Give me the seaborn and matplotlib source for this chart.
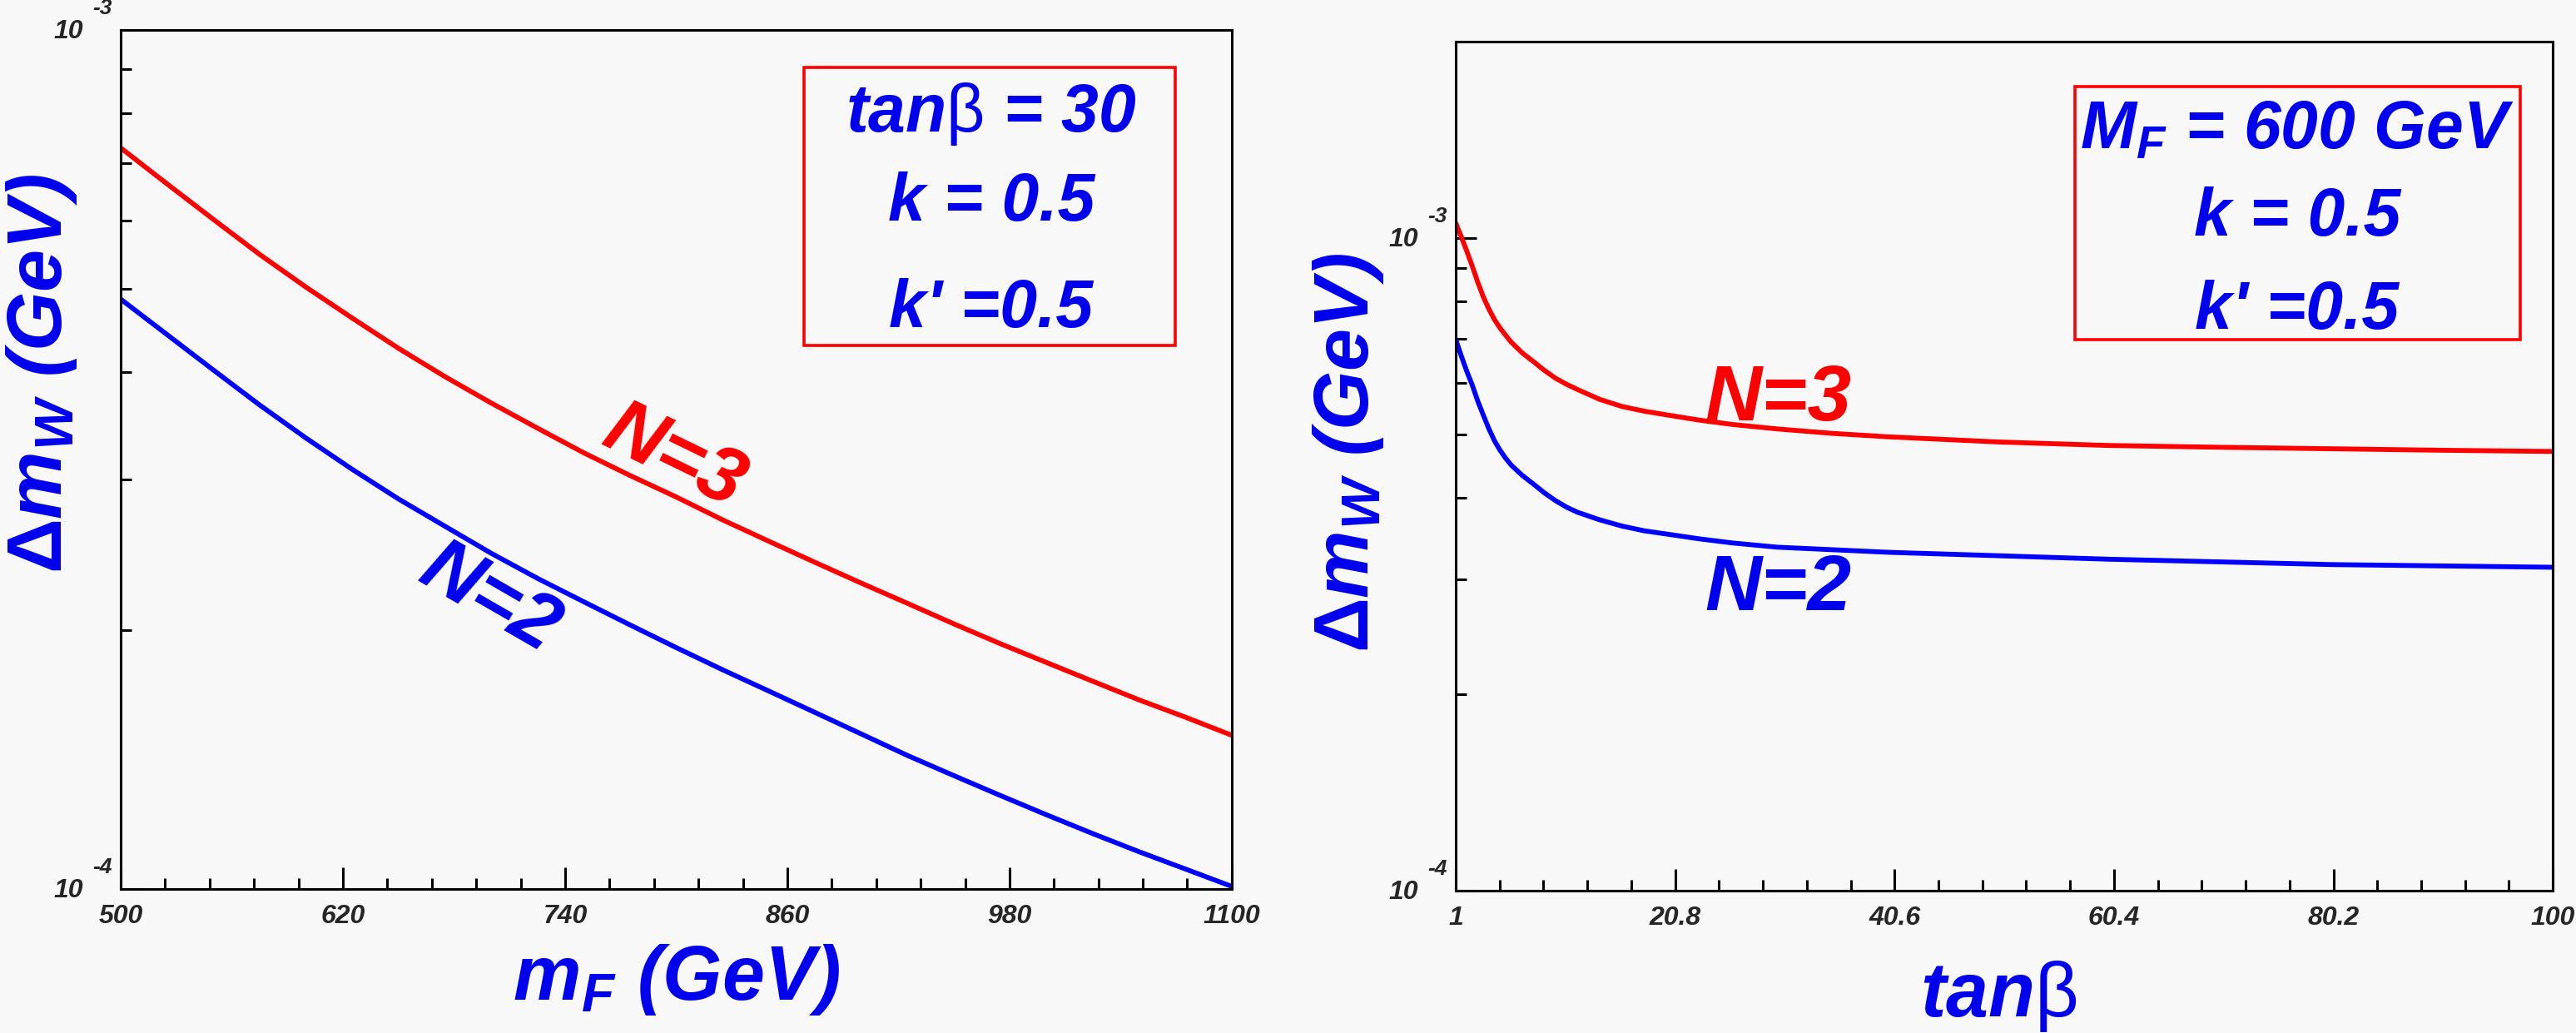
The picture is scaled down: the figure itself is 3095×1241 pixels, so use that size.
import numpy as np
import pandas as pd
import matplotlib
matplotlib.use("Agg")
import matplotlib.pyplot as plt
import matplotlib.ticker as mticker
from matplotlib.transforms import offset_copy
from matplotlib.patches import Rectangle
import seaborn as sns

# -----------------------------------
# DATA (units of 1e-4 GeV)
# -----------------------------------

mf_vals = [500, 525, 550, 575, 600, 625, 650, 675, 700, 725, 750, 775, 800,
           825, 850, 875, 900, 925, 950, 975, 1000, 1025, 1050, 1075, 1100]
dmw_mf_n2 = [4.86, 4.42, 4.02, 3.66, 3.35, 3.08, 2.845, 2.645, 2.46, 2.30, 2.16, 2.03, 1.91,
             1.80, 1.70, 1.605, 1.515, 1.43, 1.355, 1.285, 1.22, 1.16, 1.105, 1.055, 1.007]
dmw_mf_n3 = [7.29, 6.62, 6.02, 5.48, 5.02, 4.62, 4.26, 3.95, 3.68, 3.44, 3.22, 3.03, 2.86,
             2.69, 2.54, 2.40, 2.27, 2.15, 2.035, 1.93, 1.835, 1.745, 1.66, 1.585, 1.51]

tanb_vals = [1, 1.5, 2, 2.5, 3, 3.5, 4, 4.5, 5, 5.5, 6, 7, 8, 9, 10, 11, 12, 14, 16,
             18, 20, 23, 26, 30, 35, 40, 50, 60, 70, 80, 90, 100]
dmw_tb_n2 = [7.0, 6.6, 6.25, 5.95, 5.62, 5.35, 5.10, 4.89, 4.73, 4.60, 4.49, 4.33, 4.20,
             4.07, 3.96, 3.87, 3.80, 3.70, 3.62, 3.56, 3.52, 3.46, 3.41, 3.36, 3.33,
             3.30, 3.26, 3.22, 3.19, 3.16, 3.145, 3.13]
dmw_tb_n3 = [10.55, 10.05, 9.55, 9.05, 8.55, 8.12, 7.78, 7.50, 7.28, 7.10, 6.93, 6.67, 6.47,
             6.27, 6.10, 5.97, 5.86, 5.66, 5.52, 5.43, 5.36, 5.26, 5.18, 5.10, 5.02,
             4.96, 4.87, 4.81, 4.78, 4.755, 4.73, 4.71]

mf_ticks = [500, 620, 740, 860, 980, 1100]
mf_ticklabels = ["500", "620", "740", "860", "980", "1100"]
tb_ticks = [1, 20.8, 40.6, 60.4, 80.2, 100]
tb_ticklabels = ["1", "20.8", "40.6", "60.4", "80.2", "100"]

y_major = [1e-4, 1e-3]
y_exps = ["-4", "-3"]

box_left = ["tan$\\mathsf{\\beta}$ = 30", "k = 0.5", "k' =0.5"]
box_right = ["M$_F$ = 600 GeV", "k = 0.5", "k' =0.5"]

# -----------------------------------
# STYLE
# -----------------------------------

BG = "#f8f8f8"
BLUE = "#0000ee"
RED = "#ff0000"

sns.set_style("ticks")
plt.rcParams.update({
    "font.family": ["Liberation Sans", "DejaVu Sans"],
    "font.weight": "bold",
    "font.style": "italic",
    "axes.labelweight": "bold",
    "mathtext.fontset": "custom",
    "mathtext.rm": "Liberation Sans:bold:italic",
    "mathtext.it": "Liberation Sans:bold:italic",
    "mathtext.bf": "Liberation Sans:bold:italic",
    "mathtext.sf": "Liberation Sans:style=normal:weight=normal",
    "mathtext.tt": "Liberation Sans:style=normal:weight=bold",
    "axes.linewidth": 2.2,
    "axes.edgecolor": "black",
})

df_mf = pd.DataFrame({
    "x": mf_vals * 2,
    "dmw": np.array(dmw_mf_n2 + dmw_mf_n3) * 1e-4,
    "N": ["N=2"] * len(mf_vals) + ["N=3"] * len(mf_vals),
})
df_tb = pd.DataFrame({
    "x": tanb_vals * 2,
    "dmw": np.array(dmw_tb_n2 + dmw_tb_n3) * 1e-4,
    "N": ["N=2"] * len(tanb_vals) + ["N=3"] * len(tanb_vals),
})
pal = {"N=2": "#0000ff", "N=3": RED}

fig = plt.figure(figsize=(30.95, 12.41), dpi=100, facecolor=BG)
ax1 = fig.add_axes([0.04685, 0.1394, 0.4313, 0.8316])
ax2 = fig.add_axes([0.5651, 0.1378, 0.4259, 0.8219])

panels = [
    dict(ax=ax1, df=df_mf, xlim=(500, 1100), ylim=(1e-4, 1e-3),
         ticks=mf_ticks, labels=mf_ticklabels, minor=np.arange(500, 1100, 24.0),
         xlabel="m$_F$ (GeV)", xlab_pos=(0.5, -0.106), ylab_pos=(-0.071, 0.60),
         box=(0.615, 0.633, 0.334, 0.323), box_text=box_left, box_x=0.7835,
         box_y=[0.8818, 0.778, 0.654],
         n3=(0.498, 0.502, -26), n2=(0.332, 0.337, -30)),
    dict(ax=ax2, df=df_tb, xlim=(1, 100), ylim=(1e-4, 2e-3),
         ticks=tb_ticks, labels=tb_ticklabels, minor=np.arange(1, 100, 3.96),
         xlabel="tan$\\mathsf{\\beta}$", xlab_pos=(0.495, -0.1245), ylab_pos=(-0.098, 0.516),
         box=(0.5645, 0.649, 0.4055, 0.298), box_text=box_right, box_x=0.767,
         box_y=[0.8745, 0.7716, 0.6618],
         n3=(0.294, 0.578, 0), n2=(0.294, 0.354, 0)),
]

for p in panels:
    ax = p["ax"]
    ax.set_facecolor(BG)
    sns.lineplot(data=p["df"], x="x", y="dmw", hue="N", palette=pal,
                 linewidth=4.2, legend=False, ax=ax)
    ax.set_yscale("log")
    ax.set_xlim(*p["xlim"])
    ax.set_ylim(*p["ylim"])

    # ticks
    ax.set_xticks(p["ticks"], labels=p["labels"])
    ax.xaxis.set_minor_locator(mticker.FixedLocator(p["minor"]))
    ax.yaxis.set_major_locator(mticker.FixedLocator(y_major))
    ax.yaxis.set_minor_locator(mticker.FixedLocator([k * 1e-4 for k in range(2, 10)]))
    ax.yaxis.set_major_formatter(mticker.NullFormatter())
    ax.yaxis.set_minor_formatter(mticker.NullFormatter())
    ax.tick_params(which="both", direction="in", top=False, right=False,
                   color="black", width=2.2)
    ax.tick_params(axis="x", which="major", length=19, labelsize=23, pad=13)
    ax.tick_params(axis="y", which="major", length=18)
    ax.tick_params(which="minor", length=9.5)
    for sp in ax.spines.values():
        sp.set_visible(True)
        sp.set_color("black")
        sp.set_linewidth(2.2)

    # ROOT style 10^-n labels
    for v, e in zip(y_major, y_exps):
        ax.text(0, v, "10", fontsize=23, ha="center", va="center",
                transform=offset_copy(ax.get_yaxis_transform(), fig=fig, x=-63, y=-2, units="dots"))
        ax.text(0, v, e, fontsize=19, ha="center", va="center",
                transform=offset_copy(ax.get_yaxis_transform(), fig=fig, x=-22, y=26, units="dots"))

    # axis titles
    ax.set_xlabel(p["xlabel"], fontsize=66, color=BLUE, va="center", ha="center",
                  fontweight="bold", fontstyle="italic")
    ax.xaxis.set_label_coords(*p["xlab_pos"])
    ax.set_ylabel("$\\mathtt{\\Delta}$m$_W$ (GeV)", fontsize=66, color=BLUE,
                  va="center", ha="center", fontweight="bold", fontstyle="italic")
    ax.yaxis.set_label_coords(*p["ylab_pos"])

    # parameter box
    bx, by, bw, bh = p["box"]
    ax.add_patch(Rectangle((bx, by), bw, bh, transform=ax.transAxes, fill=False,
                           edgecolor=RED, linewidth=2.6, zorder=5))
    for txt, yy in zip(p["box_text"], p["box_y"]):
        ax.text(p["box_x"], yy, txt, transform=ax.transAxes, fontsize=58,
                color=BLUE, ha="center", va="baseline")

    # curve labels
    x3, y3, r3 = p["n3"]
    x2, y2, r2 = p["n2"]
    ax.text(x3, y3, "N=3", transform=ax.transAxes, fontsize=68, color=RED,
            rotation=r3, rotation_mode="anchor", ha="center", va="center")
    ax.text(x2, y2, "N=2", transform=ax.transAxes, fontsize=68, color=BLUE,
            rotation=r2, rotation_mode="anchor", ha="center", va="center")

fig.savefig("out.png", dpi=100, facecolor=BG)
